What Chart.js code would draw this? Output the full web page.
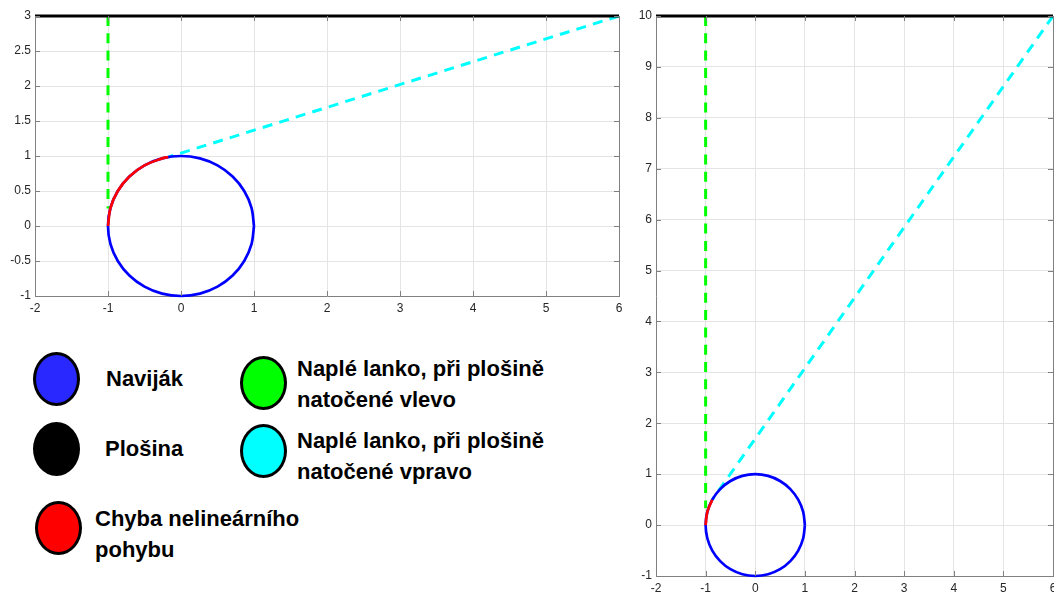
<!DOCTYPE html>
<html>
<head>
<meta charset="utf-8">
<script src="https://cdn.jsdelivr.net/npm/chart.js@4.4.1/dist/chart.umd.min.js"></script>
<style>
  html,body{margin:0;padding:0;background:#fff;width:1054px;height:595px;overflow:hidden;}
  #left{position:absolute;left:0;top:0;}
  #right{position:absolute;left:620px;top:0;}
  .dot{position:absolute;width:41px;height:48px;border:3px solid #000;border-radius:50%;}
  .lbl{position:absolute;font-family:"Liberation Sans",Arial,sans-serif;font-weight:bold;font-size:22px;line-height:31px;color:#000;white-space:nowrap;}
</style>
</head>
<body>
<canvas id="left" width="640" height="320"></canvas>
<canvas id="right" width="434" height="595"></canvas>

<div class="dot" style="left:33px;top:352px;background:#2828ff;"></div>
<div class="lbl" style="left:106px;top:363px;">Naviják</div>
<div class="dot" style="left:33px;top:422px;background:#000;"></div>
<div class="lbl" style="left:105px;top:433px;">Plošina</div>
<div class="dot" style="left:35px;top:501px;background:#ff0000;"></div>
<div class="lbl" style="left:95px;top:503px;">Chyba nelineárního<br>pohybu</div>
<div class="dot" style="left:240px;top:356px;background:#00ff00;"></div>
<div class="lbl" style="left:297px;top:353px;">Naplé lanko, při plošině<br>natočené vlevo</div>
<div class="dot" style="left:240px;top:424px;background:#00ffff;"></div>
<div class="lbl" style="left:297px;top:425px;">Naplé lanko, při plošině<br>natočené vpravo</div>

<script>
// ---- data ----
const xTicks = [-2, -1, 0, 1, 2, 3, 4, 5, 6];
const yTicksLeft = [-1, -0.5, 0, 0.5, 1, 1.5, 2, 2.5, 3];
const yTicksRight = [-1, 0, 1, 2, 3, 4, 5, 6, 7, 8, 9, 10];

// winch (unit circle), points every 15 degrees
const circleX = [1, 0.966, 0.866, 0.707, 0.5, 0.259, 0, -0.259, -0.5, -0.707, -0.866, -0.966, -1,
                 -0.966, -0.866, -0.707, -0.5, -0.259, 0, 0.259, 0.5, 0.707, 0.866, 0.966, 1];
const circleY = [0, 0.259, 0.5, 0.707, 0.866, 0.966, 1, 0.966, 0.866, 0.707, 0.5, 0.259, 0,
                 -0.259, -0.5, -0.707, -0.866, -0.966, -1, -0.966, -0.866, -0.707, -0.5, -0.259, 0];

// left chart
const leftRedX = [-1, -0.966, -0.866, -0.707, -0.5, -0.259, -0.174];
const leftRedY = [0, 0.259, 0.5, 0.707, 0.866, 0.966, 0.985];
const leftGreenX = [-1, -1];
const leftGreenY = [3, 0.25];
const leftCyanX = [6, -0.174];
const leftCyanY = [3, 0.985];
const leftBlackX = [-2, 6];
const leftBlackY = [3, 3];

// right chart
const rightRedX = [-1, -0.966, -0.866];
const rightRedY = [0, 0.259, 0.5];
const rightGreenX = [-1, -1];
const rightGreenY = [10, 0.33];
const rightCyanX = [6, -0.866];
const rightCyanY = [10, 0.5];
const rightBlackX = [-2, 6];
const rightBlackY = [10, 10];

// ---- helpers ----
const zip = (xs, ys) => xs.map((x, i) => ({x: x, y: ys[i]}));

function line(xs, ys, color, width, dash, order, tension) {
  return {
    data: zip(xs, ys), showLine: true, borderColor: color, backgroundColor: color,
    borderWidth: width, borderDash: dash || [], pointRadius: 0, fill: false,
    tension: tension || 0, order: order, clip: 5
  };
}

const innerTicks = {
  id: 'innerTicks',
  afterDraw(chart) {
    const {ctx, chartArea: a, scales} = chart;
    ctx.save();
    ctx.strokeStyle = '#808080';
    ctx.lineWidth = 1;
    ctx.beginPath();
    scales.x.ticks.forEach(t => {
      const px = Math.round(scales.x.getPixelForValue(t.value)) + 0.5;
      ctx.moveTo(px, a.bottom); ctx.lineTo(px, a.bottom - 5);
      ctx.moveTo(px, a.top); ctx.lineTo(px, a.top + 5);
    });
    scales.y.ticks.forEach(t => {
      const py = Math.round(scales.y.getPixelForValue(t.value)) + 0.5;
      ctx.moveTo(a.left, py); ctx.lineTo(a.left + 5, py);
      ctx.moveTo(a.right, py); ctx.lineTo(a.right - 5, py);
    });
    ctx.stroke();
    ctx.restore();
  }
};

function makeChart(id, yTicks, datasets, pad, yWidth, xHeight) {
  const yMin = yTicks[0], yMax = yTicks[yTicks.length - 1];
  const xMin = xTicks[0], xMax = xTicks[xTicks.length - 1];
  const tickFont = {family: 'Liberation Sans, Arial, sans-serif', size: 12};
  return new Chart(document.getElementById(id), {
    type: 'scatter',
    data: {datasets: datasets},
    options: {
      responsive: false, animation: false,
      layout: {padding: pad, autoPadding: false},
      plugins: {legend: {display: false}, tooltip: {enabled: false}},
      scales: {
        x: {
          type: 'linear', min: xMin, max: xMax,
          afterBuildTicks: s => { s.ticks = xTicks.map(v => ({value: v})); },
          afterFit: s => { s.height = xHeight; s.paddingLeft = 0; s.paddingRight = 0; },
          ticks: {color: '#262626', font: tickFont, padding: 5, autoSkip: false, maxRotation: 0,
                  callback: v => String(v)},
          grid: {drawTicks: false,
                 color: c => (c.tick && c.tick.value === xMax) ? '#808080' : '#e4e4e4'},
          border: {color: '#808080', width: 1}
        },
        y: {
          type: 'linear', min: yMin, max: yMax,
          afterBuildTicks: s => { s.ticks = yTicks.map(v => ({value: v})); },
          afterFit: s => { s.width = yWidth; s.paddingTop = 0; s.paddingBottom = 0; },
          ticks: {color: '#262626', font: tickFont, padding: 4, autoSkip: false,
                  callback: v => String(v)},
          grid: {drawTicks: false, color: '#e4e4e4'},
          border: {color: '#808080', width: 1}
        }
      }
    },
    plugins: [innerTicks]
  });
}

makeChart('left', yTicksLeft, [
  line(leftBlackX, leftBlackY, '#000000', 3, null, 0),
  line(leftRedX, leftRedY, '#ff0000', 2.7, null, 1, 0.34),
  line(circleX, circleY, '#0000ff', 2.7, null, 2, 0.34),
  line(leftCyanX, leftCyanY, '#00ffff', 3, [10, 7.3], 3),
  line(leftGreenX, leftGreenY, '#00ff00', 3, [10, 7.3], 4)
], {left: 0, top: 16, right: 21, bottom: 0}, 35, 24);

makeChart('right', yTicksRight, [
  line(rightBlackX, rightBlackY, '#000000', 3, null, 0),
  line(rightRedX, rightRedY, '#ff0000', 2.7, null, 1, 0.34),
  line(circleX, circleY, '#0000ff', 2.7, null, 2, 0.34),
  line(rightCyanX, rightCyanY, '#00ffff', 3, [10, 7.3], 3),
  line(rightGreenX, rightGreenY, '#00ff00', 3, [10, 7.3], 4)
], {left: 0, top: 16, right: 1, bottom: 0}, 36, 19);
</script>
</body>
</html>
